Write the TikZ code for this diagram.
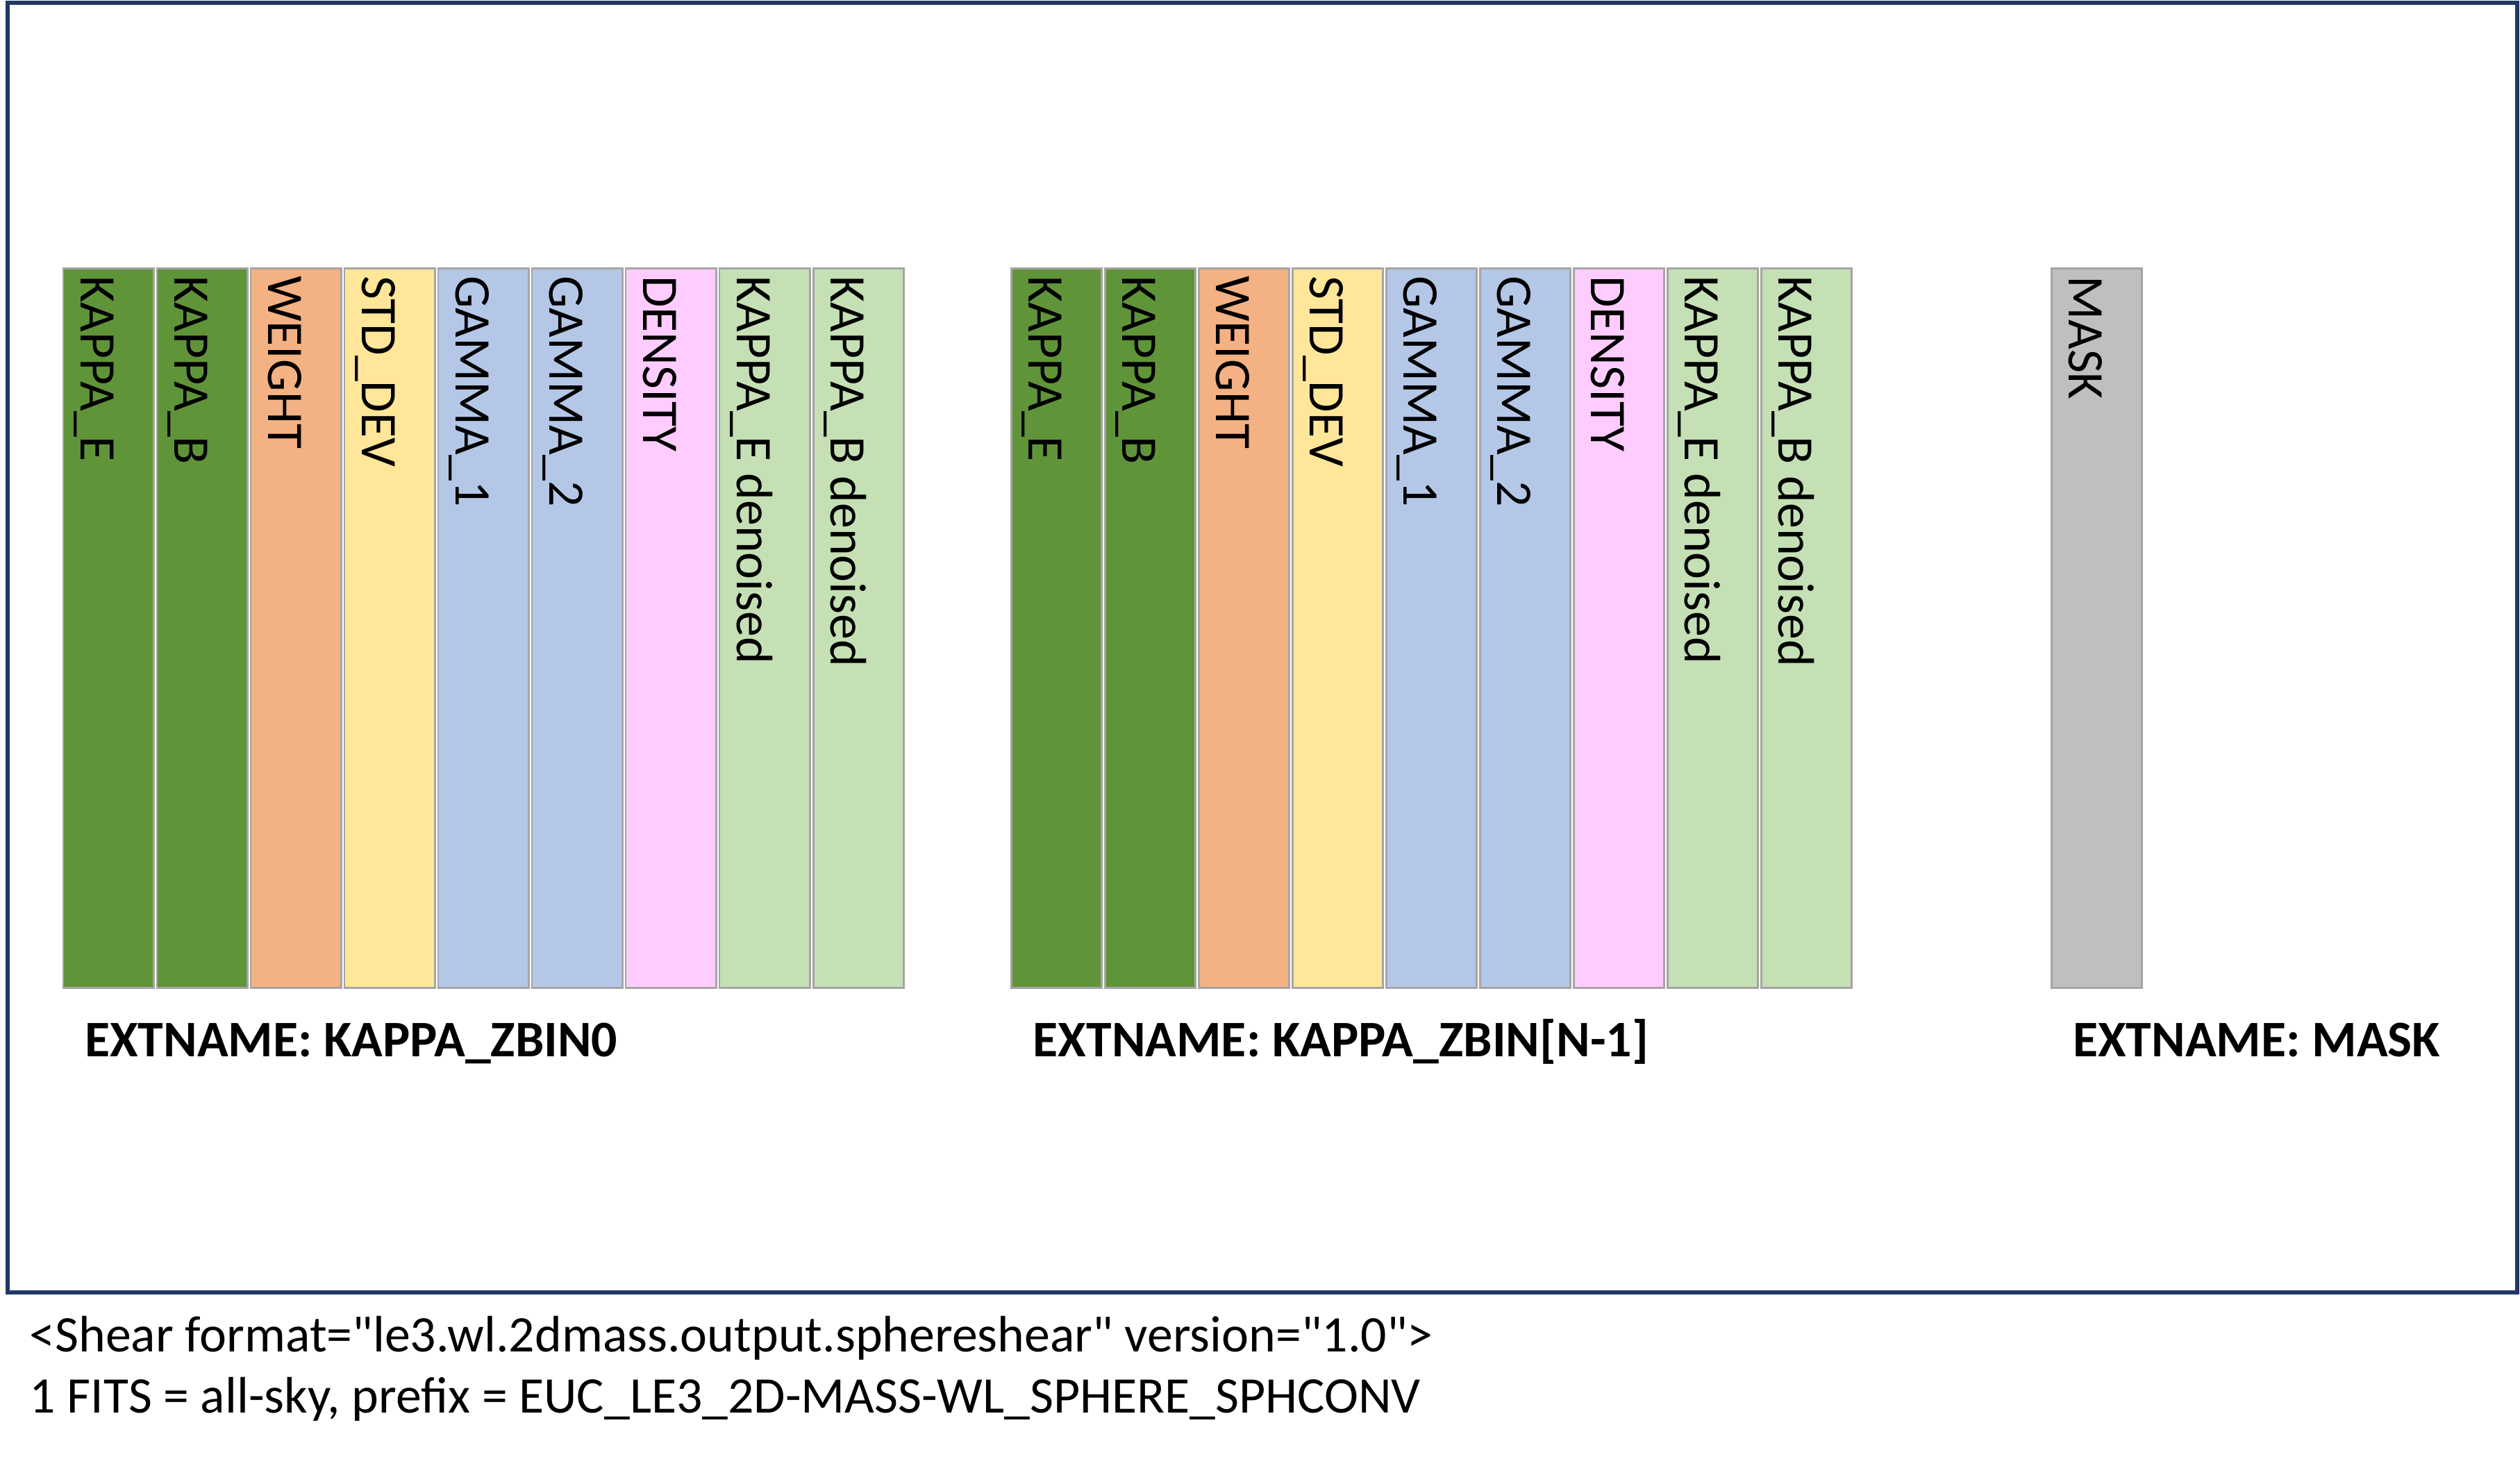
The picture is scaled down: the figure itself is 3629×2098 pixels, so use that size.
\documentclass[tikz,border=0pt]{standalone}
\usepackage{fontspec}
\setmainfont{Carlito}[Ligatures=TeXOff]
\usetikzlibrary{positioning}
\definecolor{kgreen}{HTML}{609439}
\definecolor{worange}{HTML}{F4B183}
\definecolor{syellow}{HTML}{FFE699}
\definecolor{gblue}{HTML}{B4C7E7}
\definecolor{dpink}{HTML}{FFCCFF}
\definecolor{lgreen}{HTML}{C5E0B4}
\definecolor{mgray}{HTML}{BFBFBF}
\definecolor{edgegray}{HTML}{A5A5A5}
\definecolor{framebl}{HTML}{203864}
\tikzset{
  col/.style={draw=edgegray, line width=0.85pt, minimum width=1.30cm, minimum height=10.35cm, inner sep=0pt, anchor=north west},
  coltext/.style={rotate=-90, anchor=base west, inner sep=0pt, font=\fontsize{21}{25}\selectfont},
  extname/.style={anchor=base west, inner sep=0pt, font=\fontsize{21}{25}\selectfont\bfseries},
  note/.style={anchor=base west, inner sep=0pt, font=\fontsize{21}{25}\selectfont}
}
\begin{document}
\begin{tikzpicture}[x=0.01cm, y=-0.01cm]
\useasboundingbox (0,0) rectangle (3629,2098);
% outer frame
\draw[framebl, line width=0.065cm] (11,4) rectangle (3625,1861);
% first redshift bin
\foreach \lab/\fc [count=\i from 0] in {KAPPA\_E/kgreen, KAPPA\_B/kgreen, WEIGHT/worange, STD\_DEV/syellow, GAMMA\_1/gblue, GAMMA\_2/gblue, DENSITY/dpink, KAPPA\_E denoised/lgreen, KAPPA\_B denoised/lgreen}{
  \node[col, fill=\fc] (za\i) at (89.5+135*\i, 385.5) {};
  \node[coltext] (ta\i) at ([shift={(26.5,11)}]za\i.north west) {\lab};
}
% last redshift bin
\foreach \lab/\fc [count=\i from 0] in {KAPPA\_E/kgreen, KAPPA\_B/kgreen, WEIGHT/worange, STD\_DEV/syellow, GAMMA\_1/gblue, GAMMA\_2/gblue, DENSITY/dpink, KAPPA\_E denoised/lgreen, KAPPA\_B denoised/lgreen}{
  \node[col, fill=\fc] (zn\i) at (1455+135*\i, 385.5) {};
  \node[coltext] (tn\i) at ([shift={(26.5,11)}]zn\i.north west) {\lab};
}
% mask
\node[col, fill=mgray] (mask) at (2952.5, 385.5) {};
\node[coltext] (tmask) at ([shift={(26.5,11)}]mask.north west) {MASK};
% extension names
\node[extname] (lab0) at ([shift={(32,97)}]za0.south west) {EXTNAME: KAPPA\_ZBIN0};
\node[extname] (labn) at ([shift={(32,97)}]zn0.south west) {EXTNAME: KAPPA\_ZBIN[N-1]};
\node[extname] (labm) at ([shift={(32,97)}]mask.south west) {EXTNAME: MASK};
% file description
\node[note] (note1) at (42,1946) {<Shear format="le3.wl.2dmass.output.sphereshear" version="1.0">};
\node[note] (note2) at (42,2034) {1 FITS = all-sky, prefix = EUC\_LE3\_2D-MASS-WL\_SPHERE\_SPHCONV};
\end{tikzpicture}
\end{document}
